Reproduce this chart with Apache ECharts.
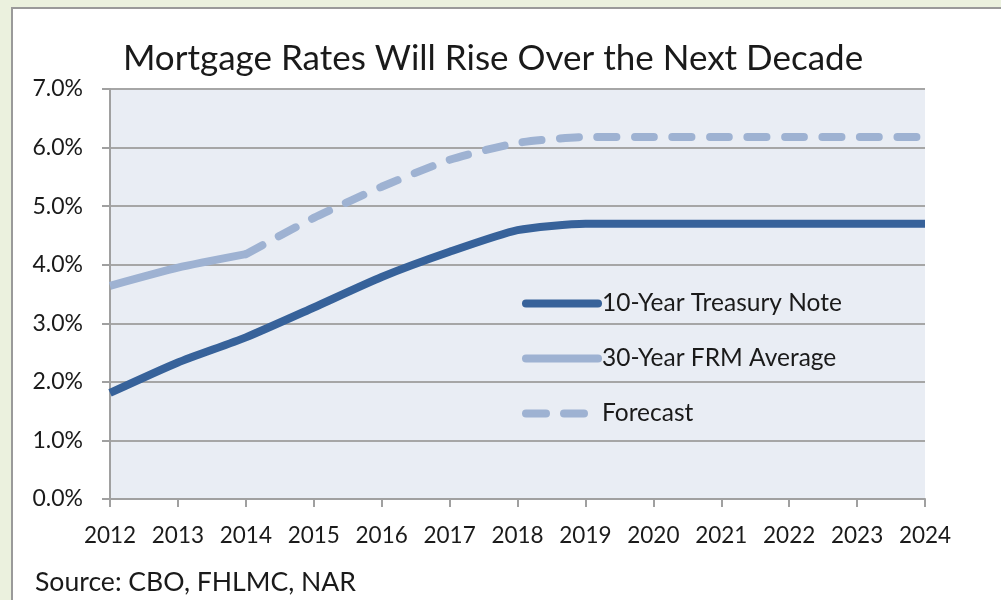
<!DOCTYPE html>
<html><head><meta charset="utf-8">
<script src="https://cdn.jsdelivr.net/npm/echarts@6/dist/echarts.min.js"></script>
<style>html,body{margin:0;padding:0;background:#ebf1de;}#c{width:1001px;height:600px;}</style>
</head><body><div id="c"></div>
<script>
var years = ['2012','2013','2014','2015','2016','2017','2018','2019','2020','2021','2022','2023','2024'];
var treasury10 = [1.81, 2.33, 2.76, 3.27, 3.79, 4.22, 4.59, 4.70, 4.70, 4.70, 4.70, 4.70, 4.70];
var frm30 = [3.64, 3.95, 4.18, null, null, null, null, null, null, null, null, null, null];
var forecast = [null, null, 4.18, 4.80, 5.33, 5.79, 6.08, 6.18, 6.18, 6.18, 6.18, 6.18, 6.18];
var yTicks = [0, 1, 2, 3, 4, 5, 6, 7];
var title = 'Mortgage Rates Will Rise Over the Next Decade';
var source = 'Source: CBO, FHLMC, NAR';
var seriesNames = ['10-Year Treasury Note', '30-Year FRM Average', 'Forecast'];

var DARK = '#37629a', LIGHT = '#9eb2d2';
var font = 'Lato, "Open Sans", sans-serif';
var solidIcon = 'path://M0,4 M80,4 M4,0 L76,0 A4,4 0 0 1 76,8 L4,8 A4,4 0 0 1 4,0 Z';
var dashIcon = 'path://M0,4 M80,4 M4,0 L24,0 A4,4 0 0 1 24,8 L4,8 A4,4 0 0 1 4,0 Z M42,0 L62,0 A4,4 0 0 1 62,8 L42,8 A4,4 0 0 1 42,0 Z';

var chart = echarts.init(document.getElementById('c'));
chart.setOption({
  backgroundColor: '#ebf1de',
  animation: false,
  graphic: [
    {type:'rect', z:-10, shape:{x:12,y:8,width:1100,height:700}, style:{fill:'#ffffff', stroke:'#9a9a9a', lineWidth:2}},
    {type:'text', left:35, top:569, style:{text:source, font:'26.6px ' + font, fill:'#1a1a1a'}}
  ],
  title: {text: title, left: 488, textAlign:'center', top: 36,
    textStyle:{fontFamily:font, fontSize:35, fontWeight:'normal', color:'#1a1a1a'}},
  grid: {left:110, top:89, right:76, bottom:101, show:true, backgroundColor:'#e9edf4', borderWidth:0},
  legend: {orient:'vertical', left:517, top:286, itemWidth:80, itemHeight:8, itemGap:30,
    textStyle:{fontFamily:font, fontSize:24.5, color:'#1a1a1a', padding:[0,0,0,-5]},
    data:[
      {name:seriesNames[0], icon:solidIcon, itemStyle:{color:DARK, borderWidth:0}},
      {name:seriesNames[1], icon:solidIcon, itemStyle:{color:LIGHT, borderWidth:0}},
      {name:seriesNames[2], icon:dashIcon, itemStyle:{color:LIGHT, borderWidth:0}}
    ]},
  xAxis: {type:'category', data: years, boundaryGap:false,
    axisLine:{lineStyle:{color:'#a0a0a0', width:2}},
    axisTick:{show:true, length:8, interval:0, lineStyle:{color:'#a0a0a0', width:2}},
    axisLabel:{fontFamily:font, fontSize:22.5, color:'#1a1a1a', margin:25, interval:0, hideOverlap:false}},
  yAxis: {type:'value', min:0, max:7, interval:1,
    axisLine:{show:true, lineStyle:{color:'#a0a0a0', width:2}},
    axisTick:{show:true, length:8, lineStyle:{color:'#a0a0a0', width:2}},
    splitLine:{lineStyle:{color:'#a6a6a6', width:2}},
    axisLabel:{fontFamily:font, fontSize:23, color:'#1a1a1a', margin:27,
      formatter:function(v){return v.toFixed(1)+'%';}}},
  series: [
    {name:seriesNames[0], type:'line', data:treasury10, smooth:0.2, symbol:'none',
      lineStyle:{color:DARK, width:8, cap:'butt', join:'round'}, itemStyle:{color:DARK}},
    {name:seriesNames[1], type:'line', data:frm30, smooth:0.2, symbol:'none',
      lineStyle:{color:LIGHT, width:8, cap:'butt', join:'round'}, itemStyle:{color:LIGHT}},
    {name:seriesNames[2], type:'line', data:forecast, smooth:0.2, symbol:'none',
      lineStyle:{color:LIGHT, width:8, cap:'round', type:[19,18.5]}, itemStyle:{color:LIGHT}}
  ]
});
</script></body></html>
